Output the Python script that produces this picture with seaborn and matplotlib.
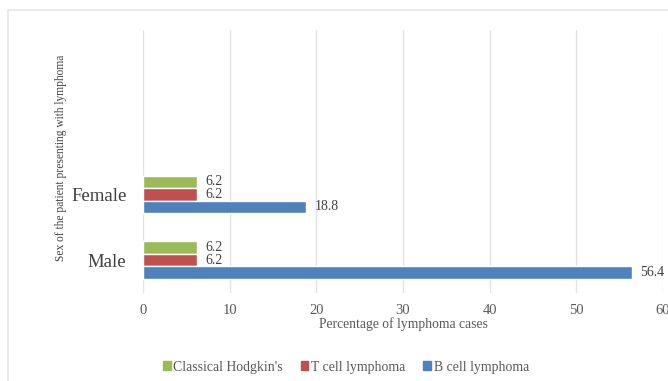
import matplotlib
matplotlib.use("Agg")
import matplotlib.pyplot as plt
import matplotlib.patches as mpatches
import seaborn as sns
import pandas as pd

sexes = ["Female", "Male"]
series = ["Classical Hodgkin's", "T cell lymphoma", "B cell lymphoma"]
classical_hodgkin = [6.2, 6.2]
t_cell = [6.2, 6.2]
b_cell = [18.8, 56.4]
colors = ["#9BBB59", "#C0504D", "#4F81BD"]
x_ticks = [0, 10, 20, 30, 40, 50, 60]

rows = []
for name, vals in zip(series, [classical_hodgkin, t_cell, b_cell]):
    for s, v in zip(sexes, vals):
        rows.append({"sex": s, "type": name, "value": v})
df = pd.DataFrame(rows)

sns.set_theme(style="white")
plt.rcParams["font.family"] = ["Liberation Serif", "DejaVu Serif"]

fig = plt.figure(figsize=(6.68, 3.81), dpi=100)
fig.patch.set_facecolor("white")
# chart border
fig.patches.append(mpatches.Rectangle((8 / 668, -0.1), 1.2, (381 - 10) / 381 + 0.1,
                                      transform=fig.transFigure, fill=False,
                                      edgecolor="#E6E6E6", linewidth=1.2, zorder=0))
ax = fig.add_axes([143 / 668, (381 - 293) / 381, 520 / 668, 263 / 381])

sns.barplot(data=df, y="sex", x="value", hue="type", order=sexes,
            hue_order=series, palette=colors, orient="h", width=0.57,
            saturation=1, ax=ax, legend=False, errorbar=None)

ax.set_xlim(0, 60)
ax.set_ylim(1.5, -2.5)
ax.set_xticks(x_ticks)
ax.set_xticklabels([str(t) for t in x_ticks], color="#595959", fontsize=10.5)
ax.tick_params(axis="x", length=0, pad=8)
ax.tick_params(axis="y", length=0, pad=12)
ax.set_yticks(range(len(sexes)))
ax.set_yticklabels(sexes, fontsize=13.5, color="#404040")
ax.grid(axis="x", color="#E3E3E3", linewidth=1)
ax.set_axisbelow(True)
for sp in ax.spines.values():
    sp.set_visible(False)
ax.set_xlabel("")
ax.set_ylabel("")

for cont in ax.containers:
    ax.bar_label(cont, fmt="%.1f", padding=6, fontsize=10, color="#404040")

fig.text(403 / 668, 1 - 324 / 381, "Percentage of lymphoma cases", ha="center",
         va="center", fontsize=9.8, color="#595959")
fig.text(61 / 668, 1 - 158 / 381, "Sex of the patient presenting with lymphoma",
         rotation=90, ha="center", va="center", fontsize=8.3, color="#404040")

handles = [mpatches.Patch(color=c, label=l) for c, l in zip(colors, series)]
fig.legend(handles=handles, loc="center", bbox_to_anchor=(346 / 668, 1 - 367 / 381),
           ncol=3, frameon=False, fontsize=9.9, handlelength=0.55, handleheight=0.55,
           handletextpad=0.2, columnspacing=1.3, labelcolor="#595959")

fig.savefig("out.png", dpi=100, facecolor="white")
